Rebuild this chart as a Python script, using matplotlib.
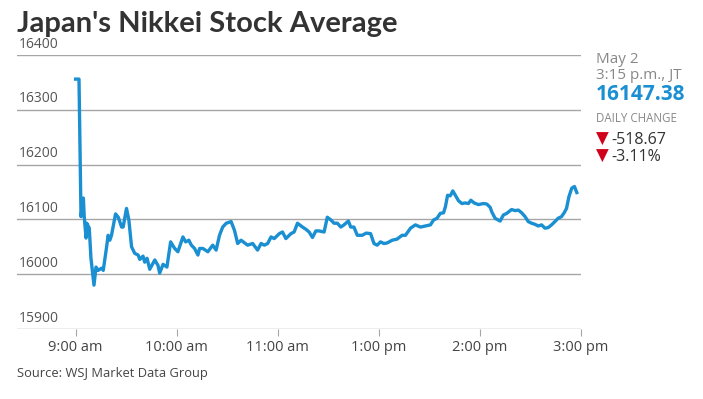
import matplotlib
matplotlib.use("Agg")
import matplotlib.pyplot as plt

# Trading minutes since 9:00 (lunch break removed) and index values
minutes = [0, 2, 3.2, 4.6, 5.1, 6.2, 6.6, 8.1, 9.1, 10.9, 12.1, 13.4, 15.4, 16.4,
           18.4, 19.3, 20.3, 21.3, 23.7, 25.3, 27.3, 28.2, 30.2, 31.6, 33.2, 35.1,
           37.1, 38.1, 40.0, 41.0, 42.4, 44.0, 47.0, 48.9, 49.9, 51.9, 54.2, 56.4,
           58.8, 60.7, 63.7, 65.3, 67.2, 68.7, 70.6, 72.6, 73.6, 75.5, 78.5, 81.4,
           83.4, 85.4, 87.3, 89.4, 92.3, 94.3, 96.2, 98.2, 102.1, 105.1, 108.0,
           110.1, 112.0, 114.0, 116.0, 117.9, 120.9, 122.8, 124.8, 127.8, 129.7,
           131.7, 134.7, 136.7, 138.6, 140.6, 142.6, 144.5, 147.5, 149.4, 151.5,
           153.4, 155.4, 157.4, 159.3, 161.9, 163.3, 165.2, 167.2, 170.1, 172.5,
           175.1, 177.1, 179.0, 181.0, 183.0, 184.9, 187.9, 190.8, 193.8, 195.8,
           198.8, 201.7, 204.7, 207.6, 210.6, 212.5, 214.5, 216.5, 218.4, 219.5,
           220.8, 222.4, 223.9, 225.4, 227.3, 229.3, 231.3, 233.2, 234.6, 236.6,
           239.1, 242.1, 244.1, 246.1, 247.0, 249.0, 252.0, 253.9, 255.9, 258.8,
           260.9, 262.8, 264.8, 266.8, 268.7, 270.7, 272.7, 274.6, 276.6, 278.6,
           280.5, 282.5, 284.5, 286.4, 288.4, 290.0, 291.4, 292.8, 294.5, 296.1,
           297.5]
values = [16356, 16356, 16105, 16139, 16105, 16066, 16093, 16084, 16029, 15980,
          16013, 16007, 16011, 16007, 16050, 16071, 16062, 16071, 16110, 16104,
          16086, 16086, 16120, 16099, 16050, 16038, 16035, 16027, 16033, 16022,
          16029, 16009, 16026, 16016, 16002, 16018, 16013, 16059, 16047, 16041,
          16068, 16059, 16062, 16053, 16047, 16035, 16047, 16047, 16041, 16053,
          16044, 16071, 16086, 16093, 16096, 16080, 16056, 16062, 16053, 16056,
          16044, 16056, 16053, 16056, 16068, 16065, 16074, 16077, 16065, 16074,
          16077, 16093, 16086, 16082, 16077, 16067, 16079, 16079, 16077, 16104,
          16099, 16093, 16093, 16086, 16090, 16097, 16086, 16086, 16071, 16071,
          16075, 16074, 16056, 16053, 16059, 16056, 16057, 16062, 16064, 16071,
          16071, 16084, 16090, 16086, 16088, 16090, 16099, 16102, 16111, 16112,
          16123, 16144, 16143, 16152, 16144, 16134, 16129, 16130, 16129, 16135,
          16130, 16127, 16129, 16128, 16122, 16114, 16102, 16097, 16108, 16111,
          16118, 16116, 16117, 16112, 16105, 16096, 16093, 16091, 16088, 16090,
          16084, 16085, 16090, 16096, 16102, 16105, 16112, 16120, 16141, 16157,
          16160, 16149]

y_ticks = [15900, 16000, 16100, 16200, 16300, 16400]
x_tick_pos = [0, 60, 120, 180, 240, 300]
x_tick_labels = ["9:00 am", "10:00 am", "11:00 am", "1:00 pm", "2:00 pm", "3:00 pm"]

title = "Japan's Nikkei Stock Average"
source = "Source: WSJ Market Data Group"
date_label = "May 2"
time_label = "3:15 p.m., JT"
last_value = "16147.38"
change_points = "-518.67"
change_pct = "-3.11%"

FONT = "Open Sans"
plt.rcParams["font.family"] = [FONT, "DejaVu Sans"]

fig = plt.figure(figsize=(7.03, 3.99), dpi=100)
W, H = 703, 399
ax = fig.add_axes([17 / W, 1 - 329 / H, (581 - 17) / W, (329 - 55) / H])

ax.set_xlim(-34.8, 300)
ax.set_ylim(15900, 16400)
for yt in y_ticks:
    ax.axhline(yt, color="#a6a6a6", lw=1.0, zorder=1)
    ax.annotate(str(yt), xy=(0, yt), xycoords=("axes fraction", "data"),
                xytext=(1.5, 2.5), textcoords="offset points",
                ha="left", va="bottom", fontsize=10, color="#555555")

ax.plot(minutes, values, color="#1a8fd2", lw=2.4, solid_joinstyle="round",
        zorder=3)

for s in ax.spines.values():
    s.set_visible(False)
ax.set_yticks([])
ax.set_xticks(x_tick_pos)
ax.set_xticklabels(x_tick_labels, fontsize=10.5, color="#444444")
ax.tick_params(axis="x", length=5, width=0.8, color="#a6a6a6", pad=3)

fig.text(17 / W, 1 - 32 / H, title, ha="left", va="baseline", fontsize=21,
         fontweight="bold", color="#333333", family=["Lato", "DejaVu Sans"])
fig.text(17 / W, 1 - 377 / H, source, ha="left", va="baseline", fontsize=9.3,
         color="#444444")

px = 596 / W
fig.text(px, 1 - 63 / H, date_label, ha="left", va="baseline", fontsize=11,
         color="#888888")
fig.text(px, 1 - 79 / H, time_label, ha="left", va="baseline", fontsize=11,
         color="#888888")
fig.text(px, 1 - 100.5 / H, last_value, ha="left", va="baseline", fontsize=15,
         fontweight="bold", color="#1a8fd2")
fig.text(px, 1 - 121.5 / H, "DAILY CHANGE", ha="left", va="baseline",
         fontsize=8.3, color="#888888")
fig.text(px, 1 - 143.5 / H, "\u25BC", ha="left", va="baseline", fontsize=12,
         color="#d0021b", family=["DejaVu Sans"])
fig.text(611 / W, 1 - 143.5 / H, change_points, ha="left", va="baseline",
         fontsize=11.5, color="#333333")
fig.text(px, 1 - 161 / H, "\u25BC", ha="left", va="baseline", fontsize=12,
         color="#d0021b", family=["DejaVu Sans"])
fig.text(611 / W, 1 - 161 / H, change_pct, ha="left", va="baseline",
         fontsize=11.5, color="#333333")

fig.savefig("out.png", dpi=100)
